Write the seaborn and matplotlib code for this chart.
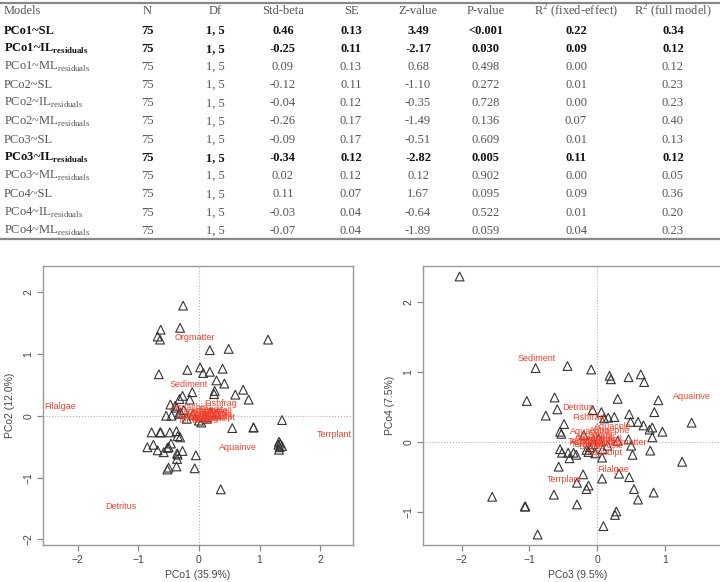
import numpy as np
import pandas as pd
import seaborn as sns
import matplotlib.pyplot as plt

# ---- table values ----
models = ["PCo1~SL", "PCo1~IL", "PCo1~ML", "PCo2~SL", "PCo2~IL", "PCo2~ML",
          "PCo3~SL", "PCo3~IL", "PCo3~ML", "PCo4~SL", "PCo4~IL", "PCo4~ML"]
resid = [False, True, True, False, True, True, False, True, True, False, True, True]
bold = [True, True, False, False, False, False, False, True, False, False, False, False]
n_obs = ["75"] * 12
dfs = ["1, 5"] * 12
std_beta = ["0.46", "-0.25", "0.09", "-0.12", "-0.04", "-0.26", "-0.09", "-0.34", "0.02", "0.11", "-0.03", "-0.07"]
se = ["0.13", "0.11", "0.13", "0.11", "0.12", "0.17", "0.17", "0.12", "0.12", "0.07", "0.04", "0.04"]
z_value = ["3.49", "-2.17", "0.68", "-1.10", "-0.35", "-1.49", "-0.51", "-2.82", "0.12", "1.67", "-0.64", "-1.89"]
p_value = ["<0.001", "0.030", "0.498", "0.272", "0.728", "0.136", "0.609", "0.005", "0.902", "0.095", "0.522", "0.059"]
r2_fixed = ["0.22", "0.09", "0.00", "0.01", "0.00", "0.07", "0.01", "0.11", "0.00", "0.09", "0.01", "0.04"]
r2_full = ["0.34", "0.12", "0.12", "0.23", "0.23", "0.40", "0.13", "0.12", "0.05", "0.36", "0.20", "0.23"]
headers = ["N", "Df", "Std-beta", "SE", "Z-value", "P-value", "R$^2$ (fixed-effect)", "R$^2$ (full model)"]

# ---- PCo1 / PCo2 sample scores ----
pco1 = [-0.26, -0.31, -0.63, -0.68, -0.64, 1.14, 0.18, 0.49, -0.66, -0.19, 0.02, 0.07, 0.18, 0.39,
        0.29, 0.42, -0.11, 0.26, 0.25, 0.73, 0.60, 0.82, -0.27, -0.32, -0.15, -0.47, -0.39, -0.37,
        -0.54, -0.45, -0.33, 0.04, 1.37, 0.55, 0.90, 0.90, -0.78, -0.64, -0.63, -0.48, -0.37, -0.35,
        -0.31, -0.46, -0.50, -0.52, -0.75, -0.85, -0.68, -0.58, -0.36, -0.35, -0.27, -0.36, -0.05,
        -0.37, -0.50, -0.52, -0.07, 0.36, 1.32, 1.34, 1.31, 1.33, 1.32, 1.37, -0.25, -0.20, 0.13,
        0.29, -0.10, 0.10, 0.20, -0.30, 0.00]
pco2 = [1.78, 1.42, 1.39, 1.28, 1.23, 1.23, 1.06, 1.08, 0.67, 0.74, 0.78, 0.69, 0.71, 0.76,
        0.57, 0.52, 0.38, 0.40, 0.35, 0.42, 0.34, 0.26, 0.32, 0.27, 0.26, 0.18, 0.16, 0.13,
        0.00, 0.00, 0.03, -0.11, -0.07, -0.20, -0.19, -0.19, -0.27, -0.27, -0.27, -0.27, -0.25, -0.33,
        -0.35, -0.45, -0.51, -0.52, -0.47, -0.51, -0.56, -0.59, -0.61, -0.63, -0.57, -0.70, -0.64,
        -0.82, -0.84, -0.87, -0.85, -1.19, -0.42, -0.45, -0.47, -0.51, -0.55, -0.49, 0.09, -0.05, -0.05,
        0.03, 0.02, -0.02, 0.05, 0.05, -0.08]

# ---- PCo3 / PCo4 sample scores ----
pco3 = [-2.03, -0.91, -0.44, -0.09, 0.18, 0.20, 0.46, 0.64, 0.69, -1.04, -0.63, -0.59, -0.76, 0.30,
        0.90, -0.07, 0.06, 0.10, 0.16, 0.25, 0.47, 0.84, 0.49, 0.60, 0.68, 0.81, 0.77, 0.96, 0.81,
        1.39, -0.49, -0.55, -0.53, 0.46, 0.50, -0.55, -0.52, -0.43, -0.41, -0.35, -0.31, -0.16, -0.13,
        -0.03, 0.07, 0.52, 0.78, 1.25, -0.57, -0.21, 0.07, 0.32, 0.47, -0.30, -0.13, -0.16, 0.54,
        0.83, 0.60, -0.64, -1.55, -1.07, -1.06, -0.30, 0.28, 0.26, 0.09, -0.88, -0.06, -0.11, 0.02,
        0.15, -0.20, 0.30, 0.08]
pco4 = [2.37, 1.06, 1.09, 1.04, 0.95, 0.90, 0.93, 0.97, 0.86, 0.59, 0.64, 0.47, 0.38, 0.62,
        0.60, 0.46, 0.43, 0.34, 0.35, 0.36, 0.40, 0.43, 0.29, 0.29, 0.24, 0.21, 0.18, 0.15, 0.07,
        0.28, 0.26, 0.15, 0.12, 0.04, -0.05, -0.10, -0.15, -0.15, -0.23, -0.15, -0.18, -0.11, -0.14,
        -0.16, -0.22, -0.18, -0.12, -0.28, -0.35, -0.46, -0.52, -0.45, -0.50, -0.58, -0.62, -0.67, -0.67,
        -0.72, -0.82, -0.75, -0.78, -0.92, -0.92, -0.89, -0.99, -1.04, -1.20, -1.32, -0.03, -0.07, 0.05,
        -0.05, 0.10, 0.02, -0.10]

# ---- diet item scores (red labels) ----
items = ["Orgmatter", "Sediment", "Filalgae", "Fishfrag", "Terrplant", "Aquainve", "Detritus",
         "Aquadipt", "Aquachiro", "Aquacole", "Aquaephe", "Aquahemi", "Aquaodon", "Aquatric", "Terrinse",
         "Aquamoll", "Aquacrus", "Terrhyme", "Terrcole", "Terrarac", "Seeds", "Scales"]
item_pco1 = [-0.07, -0.17, -2.28, 0.36, 2.23, 0.65, -1.28, 0.32, -0.12, 0.18, -0.04, 0.23, 0.13, 0.08, -0.09,
             0.25, 0.05, 0.15, 0.30, 0.02, 0.20, 0.10]
item_pco2 = [1.27, 0.51, 0.15, 0.20, -0.30, -0.52, -1.46, -0.03, 0.13, 0.08, 0.00, -0.01, 0.03, -0.05, -0.08,
             0.06, 0.07, -0.04, 0.02, -0.02, 0.10, -0.07]
item_pco3 = [0.43, -0.89, 0.23, -0.13, -0.49, 1.40, -0.28, 0.12, -0.10, 0.23, 0.18, -0.03, -0.10, 0.04, -0.15,
             0.10, -0.05, 0.00, 0.15, -0.20, 0.05, -0.08]
item_pco4 = [0.00, 1.20, -0.39, 0.35, -0.53, 0.66, 0.49, -0.15, 0.15, 0.22, 0.17, 0.08, 0.00, -0.02, -0.03,
             0.04, 0.05, 0.02, -0.04, 0.01, 0.10, -0.06]

sns.set_theme(style="white")
plt.rcParams["font.family"] = ["Liberation Sans", "DejaVu Sans"]
plt.rcParams["mathtext.fontset"] = "custom"
plt.rcParams["mathtext.rm"] = "Liberation Serif"
plt.rcParams["mathtext.bf"] = "Liberation Serif:bold"

fig = plt.figure(figsize=(7.2, 5.82), dpi=100)

# ---- table (pixel coordinates) ----
tab = fig.add_axes([0, 1 - 242 / 582, 1, 242 / 582])
tab.set_xlim(0, 720)
tab.set_ylim(242, 0)
tab.axis("off")
serif = ["Liberation Serif", "DejaVu Serif"]
col_x = [147, 215, 283, 351, 418, 486, 576, 673]
row_y = [30.5 + 18.2 * i for i in range(12)]
hcol = "#555555"
tab.text(4, 11.5, "Models", ha="left", va="center", family=serif, fontsize=9, color=hcol)
for x, h in zip(col_x, headers):
    tab.text(x, 11.5, h, ha="center", va="center", family=serif, fontsize=9, color=hcol)
tab.axhline(2.5, color="#888888", lw=1.6)
tab.axhline(238.5, color="#888888", lw=1.6)
for i in range(12):
    w = "bold" if bold[i] else "normal"
    c = "#111111" if bold[i] else "#555555"
    name = models[i]
    if resid[i]:
        name += r"$_{\mathbf{residuals}}$" if bold[i] else r"$_{\mathrm{residuals}}$"
    vals = [n_obs[i], dfs[i], std_beta[i], se[i], z_value[i], p_value[i], r2_fixed[i], r2_full[i]]
    tab.text(4, row_y[i], name, ha="left", va="center", family=serif, fontsize=9, color=c, weight=w)
    for x, v in zip(col_x, vals):
        tab.text(x, row_y[i], v, ha="center", va="center", family=serif, fontsize=9, color=c, weight=w)


def biplot(ax, sx, sy, ix, iy, xlabel, ylabel, xlim, ylim, yticks):
    sns.scatterplot(x=sx, y=sy, ax=ax, marker="^", s=40, facecolors="none",
                    edgecolor="#333333", linewidth=0.8)
    ax.axhline(0, ls=":", color="#b0b0b0", lw=0.8, zorder=0)
    ax.axvline(0, ls=":", color="#b0b0b0", lw=0.8, zorder=0)
    for name, x, y in zip(items, ix, iy):
        ax.text(x, y, name, color="#f2412c", fontsize=6.5, ha="center", va="center")
    ax.set_xlim(*xlim)
    ax.set_ylim(*ylim)
    ax.set_xticks([-2, -1, 0, 1, 2])
    ax.set_yticks(yticks)
    ax.tick_params(direction="out", length=4, width=0.9, color="#888888",
                   labelsize=7.5, labelcolor="#444444", pad=3, left=True, bottom=True)
    for lab in ax.get_yticklabels():
        lab.set_rotation(90)
        lab.set_va("center")
    for sp in ax.spines.values():
        sp.set_color("#999999")
        sp.set_linewidth(1.0)
    ax.set_xlabel(xlabel, fontsize=7.5, color="#444444", labelpad=4)
    ax.set_ylabel(ylabel, fontsize=7.5, color="#444444", labelpad=6)


ax1 = fig.add_axes([43 / 720, 37 / 582, 310 / 720, 279 / 582])
biplot(ax1, pco1, pco2, item_pco1, item_pco2, "PCo1 (35.9%)", "PCo2 (12.0%)",
       (-2.57, 2.54), (-2.09, 2.42), [-2, -1, 0, 1, 2])

ax2 = fig.add_axes([423 / 720, 37 / 582, 310 / 720, 279 / 582])
biplot(ax2, pco3, pco4, item_pco3, item_pco4, "PCo3 (9.5%)", "PCo4 (7.5%)",
       (-2.57, 1.89), (-1.47, 2.52), [-1, 0, 1, 2])

fig.savefig("out.png", dpi=100)
